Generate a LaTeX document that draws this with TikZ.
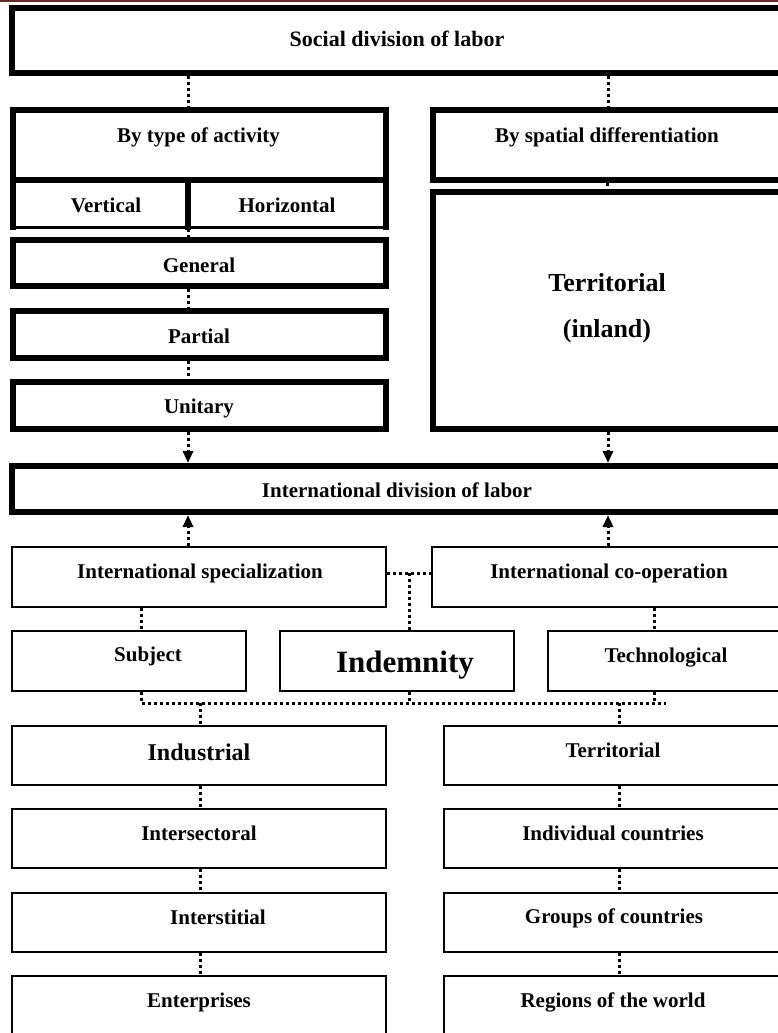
\documentclass[tikz,border=0pt]{standalone}
\usepackage{fontspec}
\setmainfont{Liberation Serif}
\usetikzlibrary{arrows.meta}
\definecolor{bandred}{RGB}{112,38,38}
\begin{document}
\begin{tikzpicture}[x=1pt,y=-1pt,
  heavy/.style={draw, line width=6pt, inner sep=0pt},
  light/.style={draw, line width=2pt, inner sep=0pt},
  cell/.style={inner sep=0pt, outer sep=0pt},
  lbl/.style={font=\bfseries\fontsize{21}{25}\selectfont, anchor=base, inner sep=0pt},
  link/.style={line width=3pt, dash pattern=on 3pt off 3pt},
  tip/.style={link, -{Triangle[length=12pt,width=10pt]}},
]
\useasboundingbox (0,0) rectangle (778,1033);
\clip (0,0) rectangle (778,1033);

% thin coloured band along the top edge
\fill[bandred] (0,0) rectangle (778,2.5);

% ---------- upper block (heavy frames) ----------
\node[heavy, minimum width=771pt, minimum height=65pt] (social) at (397.5,40.5) {};
\node[heavy, minimum width=373.5pt, minimum height=70pt] (bytype) at (199.25,145) {};
\node[cell, minimum width=175pt, minimum height=47pt] (vert) at (100,203.5) {};
\node[cell, minimum width=198.5pt, minimum height=47pt] (horiz) at (286.75,203.5) {};
\node[heavy, minimum width=373.5pt, minimum height=46pt] (general) at (199.25,263) {};
\node[heavy, minimum width=373.5pt, minimum height=47pt] (partial) at (199.25,334.5) {};
\node[heavy, minimum width=373.5pt, minimum height=47pt] (unitary) at (199.25,405.5) {};
\node[heavy, minimum width=350.5pt, minimum height=70pt] (spatial) at (607.75,145) {};
\node[heavy, minimum width=350.5pt, minimum height=237pt] (terr) at (607.75,310.5) {};
\node[heavy, minimum width=771pt, minimum height=46pt] (intdiv) at (397.5,489) {};

% the two-cell row under "By type of activity": heavy sides, lighter base
\draw[line width=6pt, line cap=rect]
  (vert.north west) -- (vert.south west)
  (vert.north east) -- (vert.south east)
  (horiz.north east) -- (horiz.south east);
\draw[line width=3pt] (vert.south west) -- (horiz.south east);

% ---------- lower block (light frames) ----------
\node[light, minimum width=374pt, minimum height=60pt] (spec) at (199,577) {};
\node[light, minimum width=352pt, minimum height=60pt] (coop) at (608,577) {};
\node[light, minimum width=234pt, minimum height=60pt] (subject) at (129,661) {};
\node[light, minimum width=234pt, minimum height=60pt] (indem) at (397,661) {};
\node[light, minimum width=236pt, minimum height=60pt] (techn) at (666,661) {};

\node[light, minimum width=374pt, minimum height=59pt] (industrial) at (199,755.5) {};
\node[light, minimum width=374pt, minimum height=59pt] (intersect) at (199,838.5) {};
\node[light, minimum width=374pt, minimum height=59pt] (interst) at (199,922.5) {};
\node[light, minimum width=374pt, minimum height=59pt] (enterp) at (199,1005.5) {};
\node[light, minimum width=338pt, minimum height=59pt] (terr2) at (613,755.5) {};
\node[light, minimum width=338pt, minimum height=59pt] (indiv) at (613,838.5) {};
\node[light, minimum width=338pt, minimum height=59pt] (groups) at (613,922.5) {};
\node[light, minimum width=338pt, minimum height=59pt] (regions) at (613,1005.5) {};

% ---------- labels ----------
\node[lbl, font=\bfseries\fontsize{22}{26}\selectfont] (t-social) at (397,47) {Social division of labor};
\node[lbl] (t-bytype) at (198.5,142) {By type of activity};
\node[lbl] (t-spatial) at (607,142) {By spatial differentiation};
\node[lbl] (t-vert) at (106,212) {Vertical};
\node[lbl] (t-horiz) at (287,212) {Horizontal};
\node[lbl] (t-general) at (199,272) {General};
\node[lbl] (t-partial) at (199,343) {Partial};
\node[lbl] (t-unitary) at (199,413) {Unitary};
\node[lbl, font=\bfseries\fontsize{26}{30}\selectfont] (t-terr) at (607,291) {Territorial};
\node[lbl, font=\bfseries\fontsize{26}{30}\selectfont] (t-inland) at (607,337) {(inland)};
\node[lbl] (t-intdiv) at (397,497) {International division of labor};
\node[lbl] (t-spec) at (200,578) {International specialization};
\node[lbl] (t-coop) at (609,578) {International co-operation};
\node[lbl] (t-subject) at (148,661) {Subject};
\node[lbl, font=\bfseries\fontsize{31}{35}\selectfont] (t-indem) at (405,672) {Indemnity};
\node[lbl] (t-techn) at (666,662) {Technological};
\node[lbl, font=\bfseries\fontsize{24}{28}\selectfont] (t-industrial) at (199,760) {Industrial};
\node[lbl] (t-terr2) at (613,757) {Territorial};
\node[lbl] (t-intersect) at (199,840) {Intersectoral};
\node[lbl] (t-indiv) at (613,840) {Individual countries};
\node[lbl] (t-interst) at (218,924) {Interstitial};
\node[lbl] (t-groups) at (614,923) {Groups of countries};
\node[lbl] (t-enterp) at (199,1007) {Enterprises};
\node[lbl] (t-regions) at (613,1007) {Regions of the world};

% ---------- connector columns ----------
\coordinate (cL) at (188,0);
\coordinate (cR) at (608,0);
\coordinate (cS) at (141,0);
\coordinate (cM) at (409,0);
\coordinate (cT) at (654,0);
\coordinate (dL) at (200,0);
\coordinate (dR) at (619,0);
\coordinate (rowLink) at (0,573);
\coordinate (busL) at (141,703);
\coordinate (busR) at (666,703);

% upper part
\draw[link] (cL |- social.south) -- (cL |- bytype.north);
\draw[link] (cR |- social.south) -- (cR |- spatial.north);
\draw[link] ([yshift=-1.5pt]cL |- vert.south) -- (cL |- general.north);
\draw[link] (cL |- general.south) -- (cL |- partial.north);
\draw[link] (cL |- partial.south) -- (cL |- unitary.north);
\draw[link] (607,0 |- spatial.south) -- (607,0 |- terr.north);

% into and out of the international division of labor
\draw[tip] (cL |- unitary.south) -- (cL |- intdiv.north);
\draw[tip] (cR |- terr.south) -- (cR |- intdiv.north);
\draw[tip] (cL |- spec.north) -- (cL |- intdiv.south);
\draw[tip] (cR |- coop.north) -- (cR |- intdiv.south);

% specialization / co-operation and their forms
\draw[link] (spec.east |- rowLink) -- (coop.west |- rowLink);
\draw[link] (cM |- rowLink) -- (cM |- indem.north);
\draw[link] (cS |- spec.south) -- (cS |- subject.north);
\draw[link] (cT |- coop.south) -- (cT |- techn.north);

% collecting line below the three forms
\draw[link] (cS |- subject.south) -- (busL) -- (busR);
\draw[link] (cM |- indem.south) -- (cM |- busL);
\draw[link] (cT |- techn.south) -- (cT |- busL);
\draw[link] (dL |- busL) -- (dL |- industrial.north);
\draw[link] (dR |- busL) -- (dR |- terr2.north);

% lower chains
\draw[link] (dL |- industrial.south) -- (dL |- intersect.north);
\draw[link] (dL |- intersect.south) -- (dL |- interst.north);
\draw[link] (dL |- interst.south) -- (dL |- enterp.north);
\draw[link] (dR |- terr2.south) -- (dR |- indiv.north);
\draw[link] (dR |- indiv.south) -- (dR |- groups.north);
\draw[link] (dR |- groups.south) -- (dR |- regions.north);
\end{tikzpicture}
\end{document}
